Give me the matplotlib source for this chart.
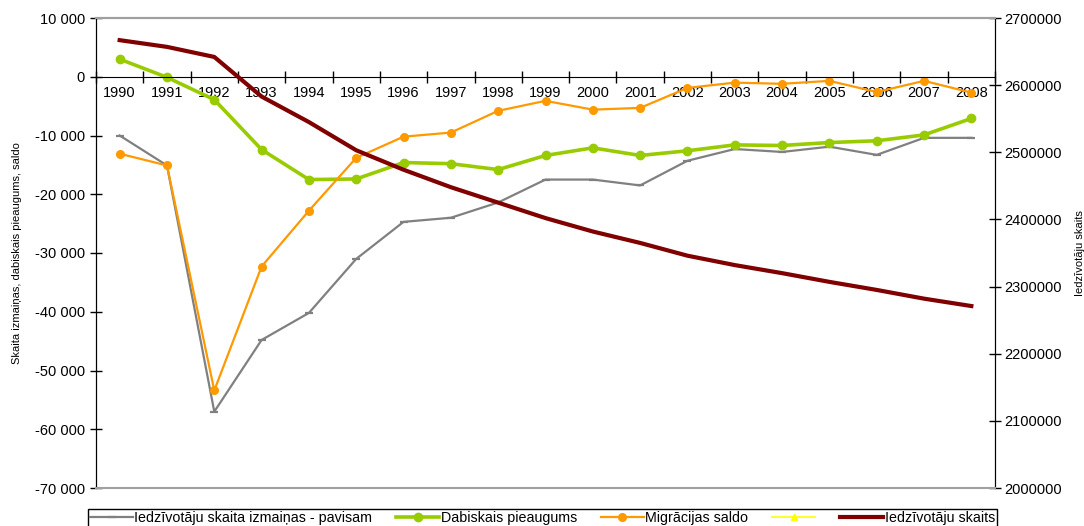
import numpy as np
import matplotlib
matplotlib.use("Agg")
import matplotlib.pyplot as plt
from matplotlib.ticker import FuncFormatter, FixedLocator

plt.rcParams['font.family'] = ['Liberation Sans', 'DejaVu Sans']

# ----------- Data -----------
years = [str(y) for y in range(1990, 2009)]
total_change = [-10000, -15100, -57000, -44800, -40200, -31000, -24700, -24000, -21400,
                -17500, -17500, -18500, -14300, -12300, -12800, -11900, -13300, -10400, -10400]
natural_growth = [3000, -100, -3900, -12400, -17500, -17400, -14600, -14800, -15800,
                  -13400, -12100, -13400, -12600, -11600, -11700, -11200, -10900, -9900, -7100]
migration = [-13100, -15100, -53400, -32300, -22800, -13800, -10200, -9500, -5800,
             -4100, -5600, -5300, -1900, -1000, -1200, -700, -2600, -700, -2700]
population = [2667000, 2657000, 2642000, 2583000, 2545000, 2503000, 2474000, 2448000, 2425000,
              2402000, 2382000, 2365000, 2346000, 2332000, 2320000, 2307000, 2295000, 2282000, 2271000]

labels = ["Iedzīvotāju skaita izmaiņas - pavisam", "Dabiskais pieaugums",
          "Migrācijas saldo", "", "Iedzīvotāju skaits"]

# ----------- Figure -----------
fig = plt.figure(figsize=(10.84, 5.26), dpi=100)
ax = fig.add_axes([96 / 1084, 1 - 488 / 526, (995 - 96) / 1084, (488 - 18) / 526])
ax2 = ax.twinx()

x = np.arange(len(years))

l1, = ax.plot(x, total_change, color="#808080", lw=1.6, marker="_", ms=6, mew=1.6)
l2, = ax.plot(x, natural_growth, color="#99CC00", lw=2.6, marker="o", ms=6)
l3, = ax.plot(x, migration, color="#FF9900", lw=1.6, marker="o", ms=5.5)
l4, = ax.plot([], [], color="#FFFF00", lw=1.2, marker="^", ms=5)
l5, = ax2.plot(x, population, color="#800000", lw=3)

ax.set_xlim(-0.5, len(years) - 0.5)
ax.set_ylim(-70000, 10000)
ax2.set_ylim(2000000, 2700000)

# left axis
ax.set_yticks(np.arange(-70000, 10001, 10000))
ax.yaxis.set_major_formatter(FuncFormatter(lambda v, p: f"{int(v):,}".replace(",", " ")))
ax.tick_params(axis="y", direction="inout", length=8, width=1, labelsize=10.5, pad=4)
ax.set_ylabel("Skaita izmaiņas, dabiskais pieaugums, saldo", fontsize=8, labelpad=9)

# x axis through zero, ticks between categories
ax.spines["bottom"].set_position(("data", 0))
ax.set_xticks(x)
ax.set_xticklabels(years)
ax.xaxis.set_minor_locator(FixedLocator(np.arange(-0.5, len(years), 1.0)))
ax.tick_params(axis="x", which="major", length=0, labelsize=10.5, pad=7)
ax.tick_params(axis="x", which="minor", direction="inout", length=8, width=1)

# right axis
ax2.set_yticks(np.arange(2000000, 2700001, 100000))
ax2.yaxis.set_major_formatter(FuncFormatter(lambda v, p: f"{int(v)}"))
ax2.tick_params(axis="y", direction="inout", length=8, width=1, labelsize=10.5, pad=3)
ax2.set_ylabel("Iedzīvotāju skaits", fontsize=8, labelpad=9)

# borders: gray top/bottom, black sides
for a in (ax, ax2):
    a.spines["top"].set_color("#A0A0A0")
    a.spines["top"].set_linewidth(1.5)
ax2.spines["bottom"].set_color("#A0A0A0")
ax2.spines["bottom"].set_linewidth(1.5)
ax.spines["left"].set_color("black")
ax2.spines["right"].set_color("black")

# legend
fig.legend([l1, l2, l3, l4, l5], labels, loc="upper left",
           bbox_to_anchor=(88 / 1084, 1 - 509 / 526, (997 - 88) / 1084, 0),
           mode="expand", ncol=5, fontsize=10.3, frameon=True, fancybox=False,
           edgecolor="black", framealpha=1, handlelength=3, handletextpad=0.1,
           borderpad=0.15, borderaxespad=0, columnspacing=1.0)

fig.savefig("out.png", dpi=100)
